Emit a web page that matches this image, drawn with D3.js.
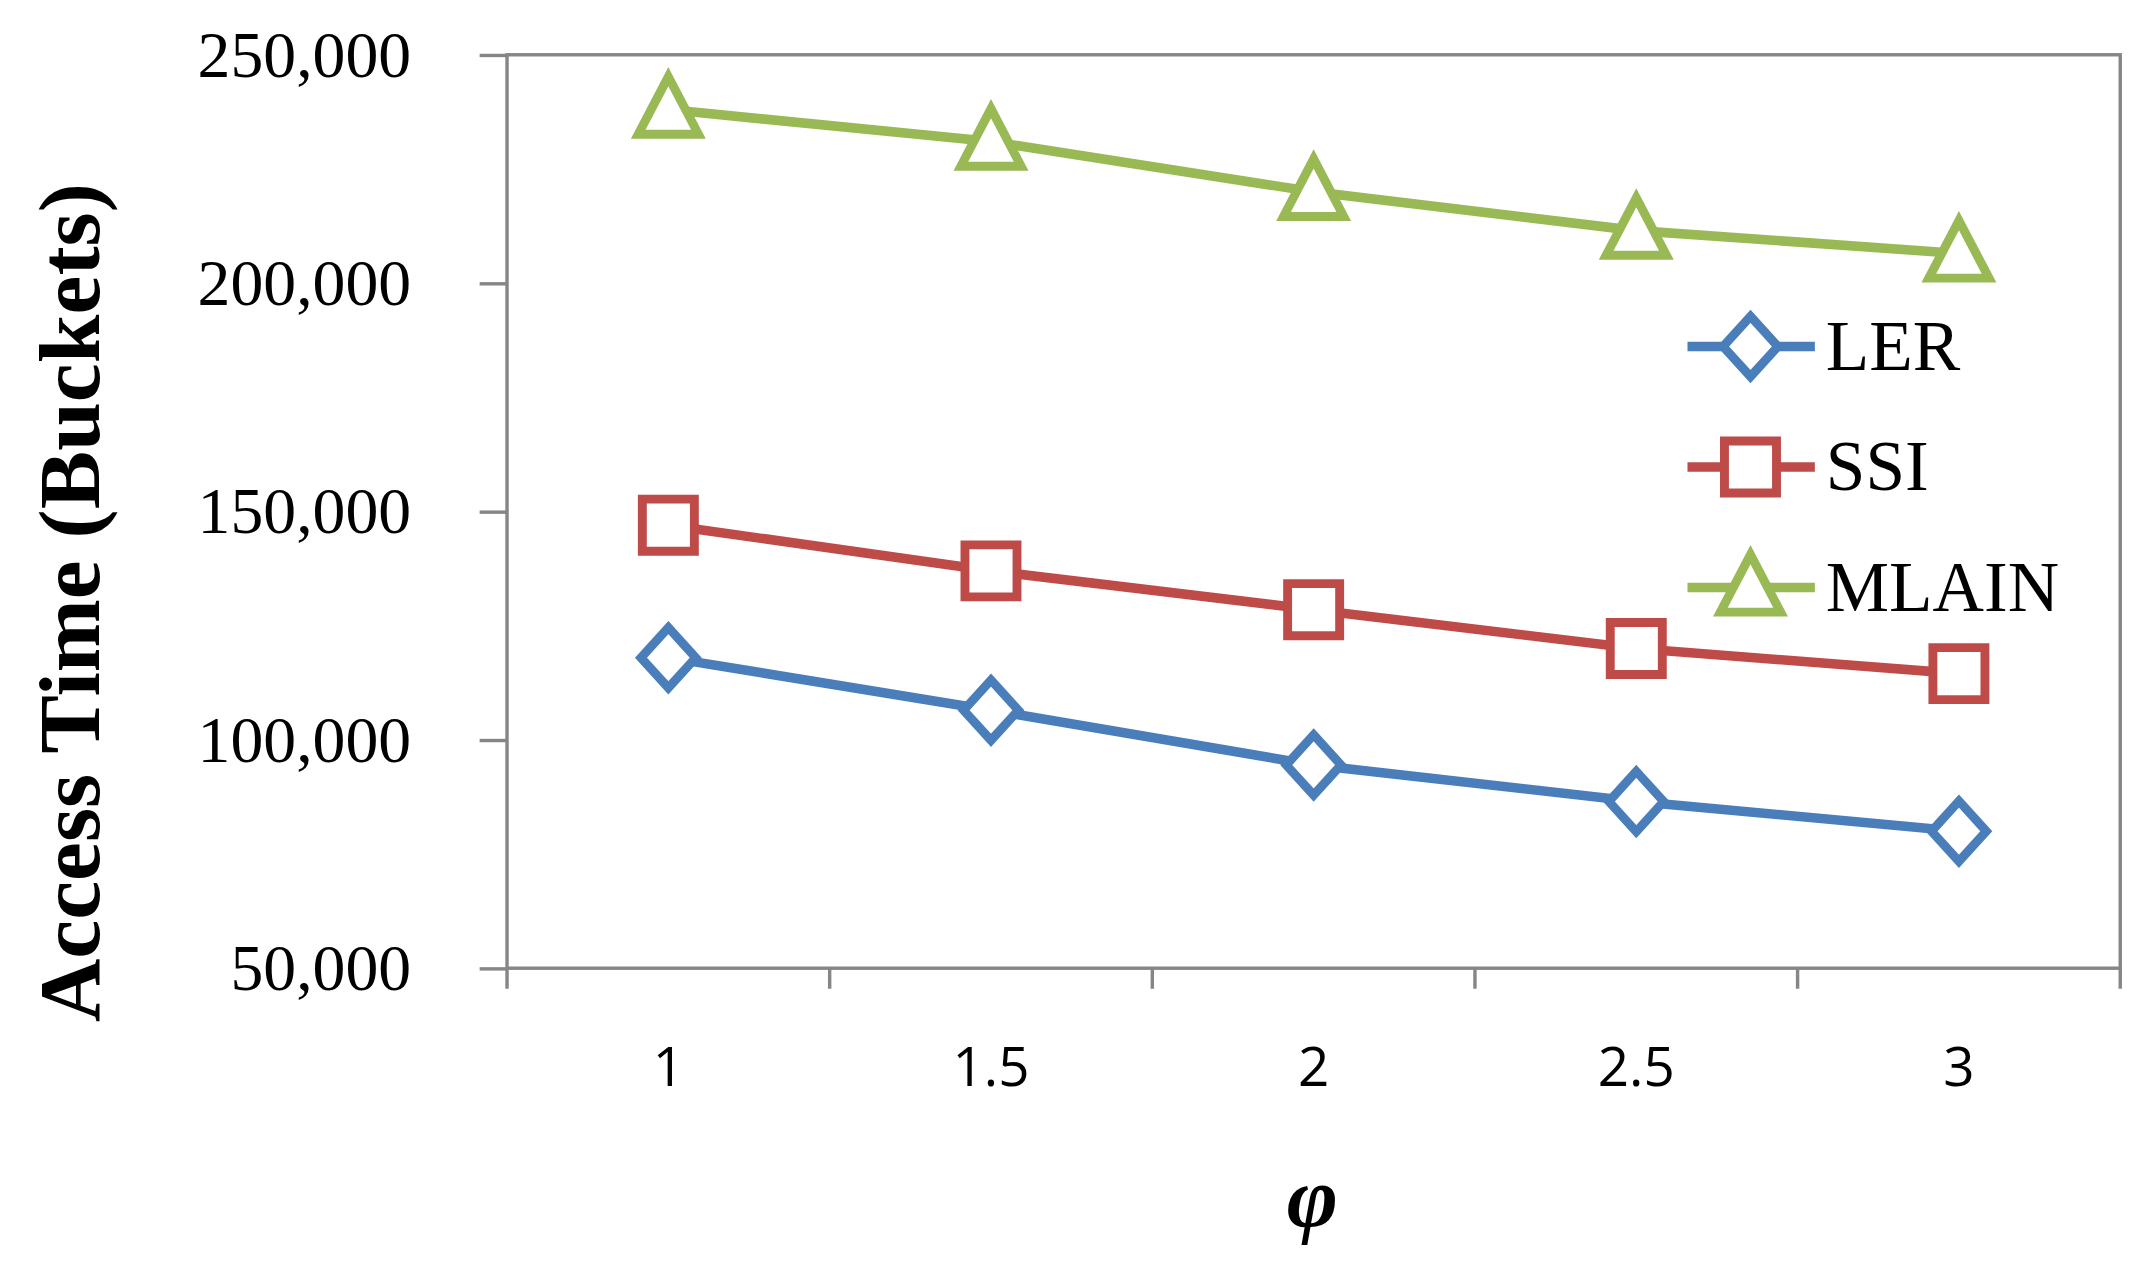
<!DOCTYPE html>
<html><head><meta charset="utf-8">
<script src="https://cdn.jsdelivr.net/npm/d3@7.9.0/dist/d3.min.js"></script>
<style>body{margin:0;background:#fff}</style>
</head><body>
<svg id="chart" width="2137" height="1264" viewBox="0 0 1560 923"></svg>
<script>
const phi = ['1', '1.5', '2', '2.5', '3'];
const ler = [118000, 106500, 94500, 86500, 80000];
const ssi = [147000, 137000, 128500, 120000, 114500];
const mlain = [238000, 231000, 220000, 211500, 206500];
const yTicks = [50000, 100000, 150000, 200000, 250000];

const series = [
  { name: 'LER', values: ler, color: '#4a7ebb', shape: 'diamond' },
  { name: 'SSI', values: ssi, color: '#be4b48', shape: 'square' },
  { name: 'MLAIN', values: mlain, color: '#98b954', shape: 'triangle' },
];

const svg = d3.select('#chart');
const pLeft = 370, pRight = 1548, pTop = 40, pBottom = 707;

const x = d3.scaleBand().domain(phi).range([pLeft, pRight]);
const y = d3.scaleLinear().domain([50000, 250000]).range([pBottom, pTop]);

// plot frame
svg.append('rect').attr('x', pLeft).attr('y', pTop).attr('width', pRight - pLeft).attr('height', pBottom - pTop)
  .attr('fill', 'none').attr('stroke', '#868686').attr('stroke-width', 2.5);

const yAxis = svg.append('g').attr('transform', `translate(${pLeft},0)`)
  .call(d3.axisLeft(y).tickValues(yTicks).tickSize(20).tickFormat(d3.format(',')));
yAxis.select('.domain').remove();
yAxis.selectAll('line').attr('stroke', '#868686').attr('stroke-width', 2.5);
yAxis.selectAll('text').attr('x', -70).attr('font-family', 'Liberation Serif').attr('font-size', 48).attr('fill', '#000');

// x ticks at band boundaries
const xb = phi.map(d => x(d)).concat([pRight]);
svg.append('g').selectAll('line').data(xb).join('line')
  .attr('x1', d => d).attr('x2', d => d).attr('y1', pBottom).attr('y2', pBottom + 15)
  .attr('stroke', '#868686').attr('stroke-width', 2.5);
svg.append('g').selectAll('text').data(phi).join('text')
  .attr('x', d => x(d) + x.bandwidth() / 2).attr('y', 793).attr('text-anchor', 'middle')
  .attr('font-family', 'Open Sans').attr('font-size', 40).text(d => d);

svg.append('text').attr('transform', 'translate(72,440) rotate(-90)').attr('text-anchor', 'middle')
  .attr('font-family', 'Liberation Serif').attr('font-weight', 'bold').attr('font-size', 64)
  .text('Access Time (Buckets)');
svg.append('text').attr('x', 958).attr('y', 895).attr('text-anchor', 'middle')
  .attr('font-family', 'Liberation Serif').attr('font-weight', 'bold').attr('font-style', 'italic')
  .attr('font-size', 64).text('φ');

const cx = d => x(d) + x.bandwidth() / 2;
function marker(g, shape, color, px, py) {
  const m = g.append('path').attr('fill', '#fff').attr('stroke', color).attr('stroke-width', 6.5);
  if (shape === 'diamond') m.attr('d', `M${px},${py - 22}L${px + 20},${py}L${px},${py + 22}L${px - 20},${py}Z`);
  if (shape === 'square') m.attr('d', `M${px - 19},${py - 19}h38v38h-38Z`);
  if (shape === 'triangle') m.attr('d', `M${px},${py - 24}L${px + 22},${py + 18}L${px - 22},${py + 18}Z`);
}

const line = d3.line().x((d, i) => cx(phi[i])).y(d => y(d));
series.forEach((s, k) => {
  const g = svg.append('g');
  g.append('path').attr('d', line(s.values)).attr('fill', 'none').attr('stroke', s.color).attr('stroke-width', 7);
  s.values.forEach((v, i) => marker(g, s.shape, s.color, cx(phi[i]), y(v)));
  const ly = 253 + k * 88;
  g.append('line').attr('x1', 1232).attr('x2', 1325).attr('y1', ly).attr('y2', ly).attr('stroke', s.color).attr('stroke-width', 7);
  marker(g, s.shape, s.color, 1278, ly);
  g.append('text').attr('x', 1333).attr('y', ly + 17).attr('font-family', 'Liberation Serif').attr('font-size', 52).text(s.name);
});
</script>
</body></html>
